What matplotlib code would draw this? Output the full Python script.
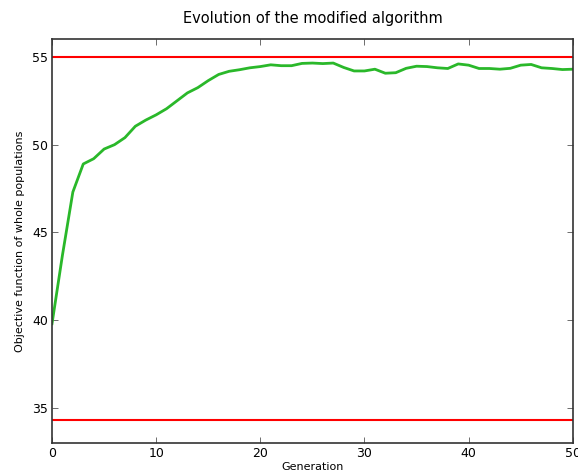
import matplotlib
matplotlib.use("Agg")
import matplotlib.pyplot as plt

generations = list(range(51))
objective = [39.8, 43.7, 47.3, 48.9, 49.2, 49.75, 50.0, 50.4, 51.05, 51.4,
             51.7, 52.05, 52.5, 52.95, 53.25, 53.65, 54.0, 54.18, 54.27, 54.38,
             54.45, 54.55, 54.5, 54.5, 54.63, 54.65, 54.62, 54.65, 54.4, 54.2,
             54.2, 54.3, 54.07, 54.1, 54.35, 54.47, 54.45, 54.38, 54.34, 54.6,
             54.53, 54.34, 54.34, 54.3, 54.35, 54.53, 54.57, 54.38, 54.34, 54.28,
             54.3]
upper_bound = 55.0
lower_bound = 34.3

x_ticks = [0, 10, 20, 30, 40, 50]
y_ticks = [35, 40, 45, 50, 55]

fig = plt.figure(figsize=(5.78, 4.76), dpi=100)
ax = fig.add_axes([0.09, 0.0693, 0.901, 0.848])

ax.axhline(upper_bound, color="#ff0000", lw=1.5)
ax.axhline(lower_bound, color="#ff0000", lw=1.5)
ax.plot(generations, objective, color="#2ab82a", lw=2)

ax.set_xlim(0, 50)
ax.set_ylim(33, 56)
ax.set_xticks(x_ticks)
ax.set_yticks(y_ticks)
ax.tick_params(direction="in", top=True, right=True, length=4, width=0.6,
               labelsize=9, pad=3, color="#555555")
for s in ax.spines.values():
    s.set_linewidth(1.2)
    s.set_color("#333333")

ax.set_title("Evolution of the modified algorithm", fontsize=10.5, pad=12)
ax.set_xlabel("Generation", fontsize=8, labelpad=1)
ax.set_ylabel("Objective function of whole populations", fontsize=8, labelpad=5)

fig.savefig("out.png", dpi=100)
